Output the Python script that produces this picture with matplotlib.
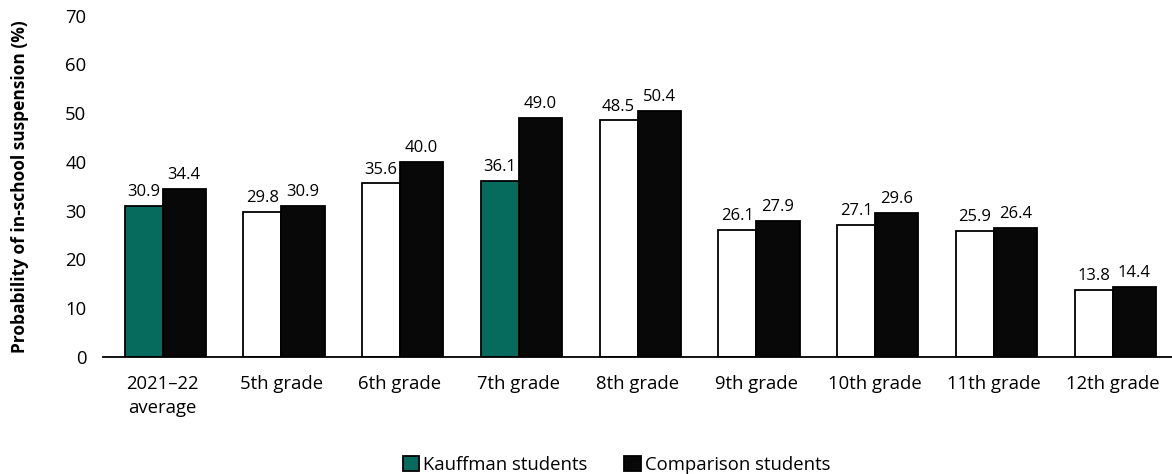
import matplotlib
matplotlib.use("Agg")
import matplotlib.pyplot as plt
from matplotlib.patches import Patch
import numpy as np

categories = ["2021\u201322\naverage", "5th grade", "6th grade", "7th grade", "8th grade",
              "9th grade", "10th grade", "11th grade", "12th grade"]
kauffman = [30.9, 29.8, 35.6, 36.1, 48.5, 26.1, 27.1, 25.9, 13.8]
comparison = [34.4, 30.9, 40.0, 49.0, 50.4, 27.9, 29.6, 26.4, 14.4]
# Groups where the Kauffman bar is shaded (statistically significant difference)
highlighted = [True, False, False, True, False, False, False, False, False]

GREEN = "#066b5c"
BLACK = "#080808"

plt.rcParams["font.family"] = ["Open Sans", "DejaVu Sans"]

fig = plt.figure(figsize=(11.72, 4.74), dpi=100)
ax = fig.add_axes([0.088, 0.247, 0.912, 0.72])

x = np.arange(len(categories))
wk = 0.32
wc = 0.365
k_colors = [GREEN if h else "white" for h in highlighted]
kb = ax.bar(x - wk / 2, kauffman, wk, color=k_colors, edgecolor="black", linewidth=1.3, zorder=2)
cb = ax.bar(x + wc / 2, comparison, wc, color=BLACK, edgecolor="black", linewidth=1.3, zorder=2)

for rect, v in zip(kb, kauffman):
    ax.text(rect.get_x() + rect.get_width() / 2, v + 1.2, f"{v:.1f}",
            ha="center", va="bottom", fontsize=12)
for rect, v in zip(cb, comparison):
    ax.text(rect.get_x() + rect.get_width() / 2, v + 1.2, f"{v:.1f}",
            ha="center", va="bottom", fontsize=12)

ax.set_ylim(0, 70)
ax.set_yticks(range(0, 71, 10))
ax.set_xlim(-0.5, len(categories) - 0.5)
ax.set_xticks(x)
ax.set_xticklabels(categories, fontsize=13.3, linespacing=1.45)
ax.tick_params(axis="y", length=0, labelsize=13.3, pad=12)
ax.tick_params(axis="x", length=0, pad=13)
for s in ["top", "right", "left"]:
    ax.spines[s].set_visible(False)
ax.spines["bottom"].set_linewidth(1.3)

ax.set_ylabel("Probability of in-school suspension (%)", fontsize=12.5,
              fontweight="bold", labelpad=26)

handles = [Patch(facecolor=GREEN, edgecolor="black", linewidth=1.3),
           Patch(facecolor=BLACK, edgecolor="black", linewidth=1.3)]
fig.legend(handles, ["Kauffman students", "Comparison students"], loc="lower center",
           bbox_to_anchor=(0.526, -0.035), ncol=2, frameon=False, fontsize=13.3,
           handlelength=0.9, handleheight=0.9, handletextpad=0.2, columnspacing=2.0)

fig.savefig("out.png", dpi=100)
